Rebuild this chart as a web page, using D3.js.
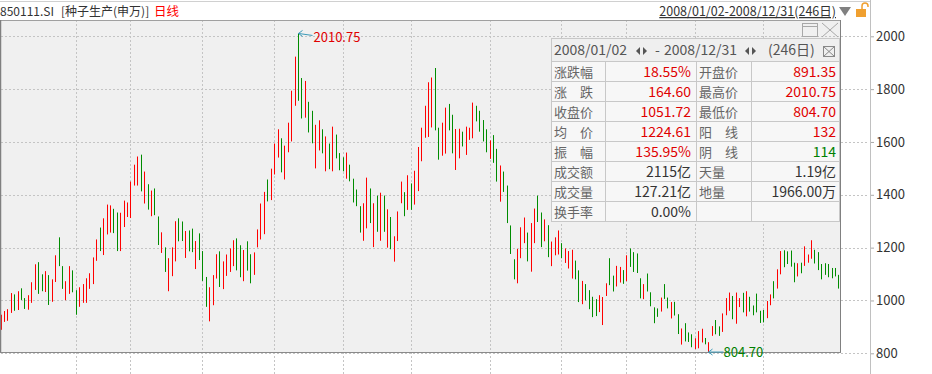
<!DOCTYPE html>
<html>
<head>
<meta charset="utf-8">
<script src="https://cdn.jsdelivr.net/npm/d3@7"></script>
<style>
  body { margin: 0; background: #fff; }
  svg { display: block; font-family: "Noto Sans CJK SC", "Microsoft YaHei", sans-serif; }
</style>
</head>
<body>
<svg id="chart" width="932" height="374"></svg>
<script>
// daily bars, 2008/01/02 - 2008/12/31 (246 trading days)
const highs = [
  946, 960, 967, 1028, 1023, 1035, 1046, 1009, 1020, 1069,
  1137, 1145, 1099, 1111, 1096, 1080, 1171, 1239, 1130, 1073,
  1130, 1114, 1039, 1050, 1062, 1084, 1103, 1163, 1231, 1276,
  1311, 1363, 1360, 1347, 1333, 1332, 1378, 1371, 1450, 1514,
  1545, 1552, 1488, 1440, 1416, 1424, 1318, 1258, 1201, 1160,
  1201, 1300, 1311, 1299, 1263, 1265, 1272, 1225, 1254, 1187,
  1089, 1050, 1096, 1175, 1186, 1148, 1174, 1197, 1228, 1235,
  1209, 1191, 1224, 1175, 1182, 1269, 1367, 1411, 1458, 1499,
  1594, 1648, 1614, 1586, 1673, 1794, 1923, 2010.75, 1842, 1831,
  1752, 1718, 1665, 1682, 1648, 1621, 1594, 1658, 1628, 1558,
  1542, 1560, 1514, 1461, 1420, 1357, 1368, 1465, 1424, 1368,
  1397, 1408, 1397, 1345, 1316, 1243, 1337, 1450, 1410, 1474,
  1443, 1491, 1581, 1654, 1737, 1826, 1844, 1880, 1654, 1673,
  1730, 1744, 1703, 1649, 1650, 1639, 1658, 1654, 1749, 1737,
  1718, 1683, 1648, 1606, 1626, 1574, 1511, 1488, 1435, 1284,
  1156, 1195, 1277, 1314, 1257, 1293, 1348, 1397, 1333, 1307,
  1285, 1223, 1239, 1265, 1217, 1197, 1187, 1192, 1151, 1114,
  1074, 1062, 1039, 1014, 1005, 1020, 1013, 1065, 1160, 1094,
  1131, 1127, 1115, 1171, 1197, 1183, 1178, 1084, 1062, 1102,
  1031, 974, 970, 1011, 1062, 1011, 994, 995, 948, 894,
  914, 879, 872, 857, 884, 893, 858, 842, 903, 926,
  902, 951, 1009, 1030, 1017, 1030, 1009, 1029, 1035, 1014,
  981, 1026, 961, 964, 998, 1023, 1073, 1118, 1187, 1190,
  1186, 1189, 1143, 1141, 1143, 1205, 1174, 1228, 1192, 1183,
  1138, 1141, 1138, 1123, 1123, 1097
];
const lows = [
  889, 919, 923, 953, 961, 964, 1002, 968, 965, 991,
  1040, 1025, 1035, 1032, 983, 995, 1070, 1130, 1044, 1001,
  1025, 1031, 946, 976, 991, 991, 1044, 1062, 1150, 1187,
  1172, 1250, 1257, 1255, 1187, 1187, 1278, 1316, 1312, 1435,
  1435, 1413, 1367, 1344, 1319, 1323, 1210, 1180, 1108, 1035,
  1092, 1148, 1224, 1225, 1161, 1186, 1183, 1119, 1153, 1074,
  976, 921, 982, 1083, 1051, 1043, 1093, 1108, 1130, 1114,
  1088, 1073, 1113, 1065, 1097, 1201, 1231, 1251, 1375, 1380,
  1477, 1541, 1485, 1458, 1561, 1602, 1737, 1756, 1689, 1692,
  1636, 1595, 1500, 1568, 1557, 1489, 1497, 1489, 1538, 1493,
  1489, 1461, 1451, 1371, 1357, 1257, 1226, 1273, 1293, 1202,
  1260, 1226, 1260, 1200, 1194, 1147, 1225, 1368, 1319, 1343,
  1343, 1363, 1414, 1527, 1616, 1619, 1655, 1644, 1533, 1548,
  1556, 1644, 1557, 1494, 1538, 1583, 1551, 1608, 1614, 1678,
  1639, 1602, 1561, 1536, 1521, 1450, 1374, 1411, 1293, 1176,
  1080, 1065, 1160, 1217, 1148, 1109, 1217, 1297, 1202, 1224,
  1164, 1130, 1171, 1174, 1160, 1142, 1121, 1083, 1080, 994,
  986, 1000, 967, 937, 941, 956, 907, 1017, 1058, 1034,
  1053, 1068, 1063, 1073, 1127, 1108, 1104, 1008, 1005, 1034,
  978, 914, 938, 958, 1006, 970, 932, 943, 873, 833,
  845, 843, 823, 816, 819, 841, 834, 804.70, 866, 872,
  866, 881, 944, 961, 929, 912, 975, 955, 940, 958,
  944, 955, 915, 917, 933, 982, 1008, 1045, 1099, 1126,
  1138, 1128, 1069, 1091, 1103, 1131, 1143, 1158, 1140, 1115,
  1080, 1097, 1088, 1084, 1091, 1045
];
// 1 = 阳线 (red), 0 = 阴线 (green)
const rising = [
  1,1,1,1,0,1,0,0,1,1, 1,0,0,1,0,1,1,0,0,1, 1,0,0,1,1,1,1,1,1,0,
  1,1,1,0,0,1,1,1,1,1, 1,0,1,0,1,0,0,1,0,1, 1,1,0,0,1,0,0,1,0,0,
  0,1,1,1,0,1,1,1,1,0, 0,1,0,0,1,1,1,1,0,1, 1,1,0,1,1,1,1,0,0,1,
  0,0,1,1,0,1,0,1,0,0, 0,1,0,0,0,0,1,1,0,1, 0,1,0,1,0,1,1,1,0,1,
  0,1,1,1,1,1,1,0,0,1, 1,0,0,1,1,0,1,1,1,0, 0,0,0,1,0,0,1,0,0,0,
  0,1,1,1,0,1,1,0,0,1, 0,1,1,1,0,1,1,1,0,0, 1,0,0,0,0,1,1,1,0,0,
  1,1,0,1,0,0,0,0,1,0, 0,0,0,1,0,0,1,0,0,1, 0,0,0,1,1,1,0,1,1,0,
  0,1,1,1,0,1,1,0,1,0, 0,0,0,0,1,1,0,1,1,0, 0,0,0,1,0,1,1,1,0,0,
  0,0,0,0,0,0
];
// first trading day of Feb..Dec
const monthStarts = [22, 38, 59, 80, 100, 120, 143, 164, 183, 203, 223];
const yTicks = [800, 1000, 1200, 1400, 1600, 1800, 2000];

const statLabelsL = ["涨跌幅", "涨\u3000跌", "收盘价", "均\u3000价", "振\u3000幅", "成交额", "成交量", "换手率"];
const statValuesL = ["18.55%", "164.60", "1051.72", "1224.61", "135.95%", "2115亿", "127.21亿", "0.00%"];
const statLabelsR = ["开盘价", "最高价", "最低价", "阳\u3000线", "阴\u3000线", "天量", "地量", ""];
const statValuesR = ["891.35", "2010.75", "804.70", "132", "114", "1.19亿", "1966.00万", ""];
const colorL = ["r", "r", "r", "r", "r", "k", "k", "k"];
const colorR = ["r", "r", "r", "r", "g", "k", "k", "k"];

const RED = "#ff0000", GREEN = "#008c00";
const tone = { r: "#e00000", g: "#008000", k: "#333" };

const svg = d3.select("#chart");
const plotR = 840, plotT = 20, plotB = 353, axisX = 870;

const x = d3.scaleLinear().domain([0, 245]).range([0.5, 838.4]);
const y = d3.scaleLinear().domain([800, 2000]).range([353.3, 36.3]);

// header
svg.append("line").attr("x1", 0).attr("x2", axisX).attr("y1", 1.5).attr("y2", 1.5)
  .attr("stroke", "#d0d0d0");
svg.append("text").attr("x", 0).attr("y", 16).attr("font-size", 12).attr("fill", "#333")
  .text("850111.SI");
svg.append("text").attr("x", 61).attr("y", 16).attr("font-size", 12).attr("fill", "#333")
  .text("[种子生产(申万)]");
svg.append("text").attr("x", 154).attr("y", 16).attr("font-size", 12.5).attr("fill", "#f00")
  .text("日线");
svg.append("text").attr("x", 836).attr("y", 16).attr("font-size", 12.5).attr("fill", "#333")
  .attr("text-anchor", "end").attr("text-decoration", "underline")
  .text("2008/01/02-2008/12/31(246日)");
svg.append("path").attr("d", "M839,7 L851,7 L845,16 Z").attr("fill", "#808080");
// lock icon
svg.append("rect").attr("x", 856).attr("y", 9).attr("width", 10).attr("height", 8).attr("fill", "#f0a030");
svg.append("path").attr("d", "M862,9 V6 a3,3 0 0 1 6,0 V7").attr("fill", "none")
  .attr("stroke", "#f0a030").attr("stroke-width", 1.5);

// plot background
svg.append("rect").attr("x", 1).attr("y", plotT).attr("width", plotR - 1).attr("height", plotB - plotT)
  .attr("fill", "#f0f0f0");

// grid
svg.append("g").selectAll("line").data(yTicks).join("line")
  .attr("x1", 1).attr("x2", axisX - 2)
  .attr("y1", d => Math.round(y(d)) + 0.5).attr("y2", d => Math.round(y(d)) + 0.5)
  .attr("stroke", "#c4c4c4").attr("stroke-dasharray", "2,2");
svg.append("g").selectAll("line").data(monthStarts).join("line")
  .attr("x1", d => Math.round(x(d)) + 0.5).attr("x2", d => Math.round(x(d)) + 0.5)
  .attr("y1", plotT).attr("y2", 374)
  .attr("stroke", "#c4c4c4").attr("stroke-dasharray", "2,2");

// bars
svg.append("g").selectAll("rect").data(highs).join("rect")
  .attr("x", (d, i) => Math.round(x(i)))
  .attr("width", 1)
  .attr("y", d => y(d))
  .attr("height", (d, i) => Math.max(1, y(lows[i]) - y(d)))
  .attr("fill", (d, i) => rising[i] ? RED : GREEN);

// plot frame
svg.append("line").attr("x1", 0).attr("x2", plotR).attr("y1", plotT + 0.5).attr("y2", plotT + 0.5).attr("stroke", "#a0a0a0");
svg.append("line").attr("x1", 0.5).attr("x2", 0.5).attr("y1", plotT).attr("y2", plotB).attr("stroke", "#808080").attr("stroke-width", 1.5);
svg.append("line").attr("x1", plotR + 0.5).attr("x2", plotR + 0.5).attr("y1", plotT).attr("y2", plotB).attr("stroke", "#808080");
svg.append("line").attr("x1", 0).attr("x2", plotR + 1).attr("y1", plotB - 0.5).attr("y2", plotB - 0.5).attr("stroke", "#8a8a8a");

// right axis
const axis = svg.append("g").attr("transform", `translate(${axisX},0)`)
  .call(d3.axisRight(y).tickValues(yTicks).tickFormat(d3.format("d")).tickSize(4).tickPadding(2));
axis.select(".domain").remove();
axis.selectAll(".tick line").attr("stroke", "#aaa");
axis.selectAll(".tick text").attr("font-size", 13).attr("fill", "#333")
  .attr("font-family", "'Noto Sans CJK SC', sans-serif");
svg.append("line").attr("x1", axisX + 0.5).attr("x2", axisX + 0.5).attr("y1", 0).attr("y2", 374)
  .attr("stroke", "#c0c0c0");

// max / min annotations
const iMax = highs.indexOf(d3.max(highs));
const iMin = lows.indexOf(d3.min(lows));
const arrow = "#3b9ab8";
{
  const px = Math.round(x(iMax)) + 0.5, py = y(highs[iMax]);
  svg.append("path").attr("d", `M${px + 4},${py - 3} L${px},${py} L${px + 4},${py + 3} M${px},${py} L${px + 14},${py + 2}`)
    .attr("stroke", arrow).attr("fill", "none");
  svg.append("text").attr("x", px + 15).attr("y", py + 9).attr("font-size", 13).attr("fill", "#e00000")
    .text(highs[iMax].toFixed(2));
}
{
  const px = Math.round(x(iMin)) + 0.5, py = y(lows[iMin]);
  svg.append("path").attr("d", `M${px + 4},${py - 3} L${px},${py} L${px + 4},${py + 3} M${px},${py} L${px + 15},${py}`)
    .attr("stroke", arrow).attr("fill", "none");
  svg.append("text").attr("x", px + 15).attr("y", py + 5).attr("font-size", 13).attr("fill", "#008000")
    .text(lows[iMin].toFixed(2));
}

// window buttons
const ic = svg.append("g").attr("stroke", "#a8a8a8").attr("fill", "none");
ic.append("rect").attr("x", 802.5).attr("y", 23.5).attr("width", 15).attr("height", 13);
ic.append("line").attr("x1", 802.5).attr("x2", 817.5).attr("y1", 26.5).attr("y2", 26.5);
ic.append("path").attr("d", "M822,23 L838,37 M838,23 L822,37");

// info panel
const pL = 551, pR = 839, pT = 38, titleH = 23, rowH = 20;
const cols = [pL, 605, 696, 751, pR];
const panel = svg.append("g");
panel.append("rect").attr("x", pL + 0.5).attr("y", pT + 0.5).attr("width", pR - pL).attr("height", titleH + rowH * 8)
  .attr("fill", "#f7f7f7").attr("stroke", "#c8c8c8");
panel.append("rect").attr("x", pL + 1).attr("y", pT + 1).attr("width", pR - pL - 1).attr("height", titleH - 1)
  .attr("fill", "#efefef");
d3.range(9).forEach(r => {
  const yy = pT + titleH + r * rowH + 0.5;
  panel.append("line").attr("x1", pL).attr("x2", pR).attr("y1", yy).attr("y2", yy).attr("stroke", "#c8c8c8");
});
cols.slice(1, 4).forEach(cx => {
  panel.append("line").attr("x1", cx + 0.5).attr("x2", cx + 0.5)
    .attr("y1", pT + titleH).attr("y2", pT + titleH + rowH * 8).attr("stroke", "#c8c8c8");
});
const tt = panel.append("g").attr("font-size", 14).attr("fill", "#555");
tt.append("text").attr("x", 554).attr("y", 55).text("2008/01/02");
tt.append("text").attr("x", 655).attr("y", 55).text("-");
tt.append("text").attr("x", 664).attr("y", 55).text("2008/12/31");
tt.append("text").attr("x", 768).attr("y", 55).text("(246日)");
[636, 745].forEach(ax => {
  tt.append("path").attr("d", `M${ax + 4},47 L${ax},51 L${ax + 4},55 Z M${ax + 7},47 L${ax + 11},51 L${ax + 7},55 Z`)
    .attr("fill", "#555");
});
panel.append("rect").attr("x", 823.5).attr("y", 46.5).attr("width", 11).attr("height", 10)
  .attr("fill", "none").attr("stroke", "#888");
panel.append("path").attr("d", "M823.5,46.5 L834.5,56.5 M834.5,46.5 L823.5,56.5").attr("stroke", "#888");

statLabelsL.forEach((lab, r) => {
  const by = pT + titleH + r * rowH + 16;
  panel.append("text").attr("x", 554).attr("y", by).attr("font-size", 13).attr("fill", "#666").text(lab);
  panel.append("text").attr("x", 691).attr("y", by).attr("font-size", 14).attr("text-anchor", "end")
    .attr("fill", tone[colorL[r]]).text(statValuesL[r]);
  panel.append("text").attr("x", 699).attr("y", by).attr("font-size", 13).attr("fill", "#666").text(statLabelsR[r]);
  panel.append("text").attr("x", 836).attr("y", by).attr("font-size", 14).attr("text-anchor", "end")
    .attr("fill", tone[colorR[r]]).text(statValuesR[r]);
});
</script>
</body>
</html>
